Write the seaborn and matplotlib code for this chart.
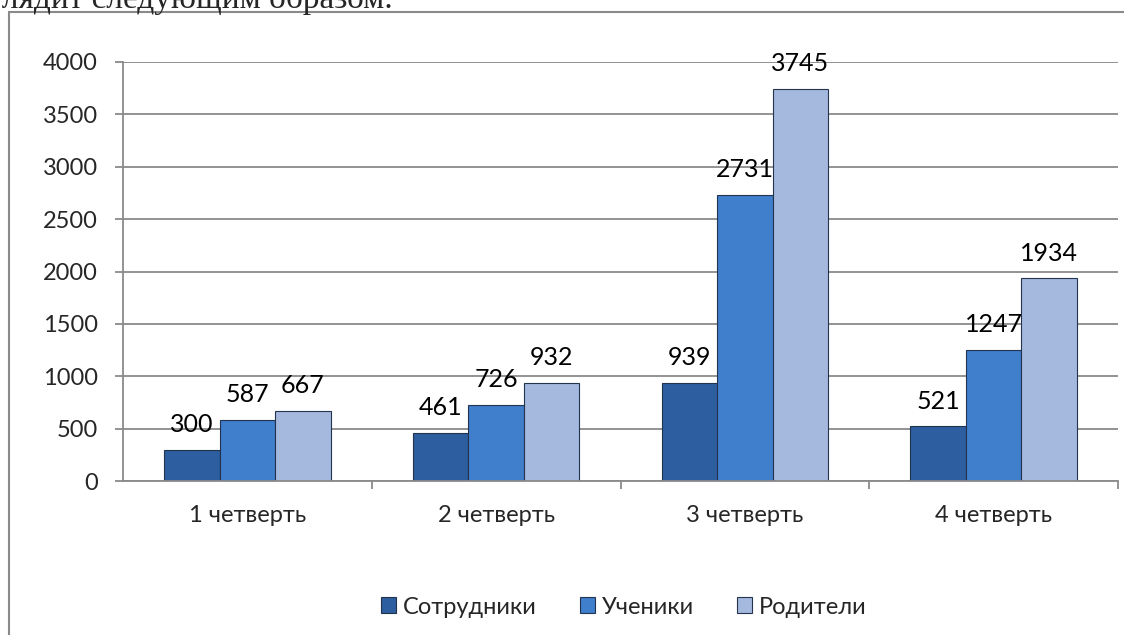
import pandas as pd
import seaborn as sns
import matplotlib.pyplot as plt
from matplotlib.patches import Rectangle

quarters = ['1 четверть', '2 четверть', '3 четверть', '4 четверть']
series = ['Сотрудники', 'Ученики', 'Родители']
staff = [300, 461, 939, 521]
pupils = [587, 726, 2731, 1247]
parents = [667, 932, 3745, 1934]
colors = ['#2D5E9F', '#3F7FCC', '#A5B9DE']

df = pd.DataFrame({
    'quarter': quarters * 3,
    'group': [s for s in series for _ in quarters],
    'value': staff + pupils + parents,
})

sns.set_style('white')
plt.rcParams['font.family'] = ['Lato', 'DejaVu Sans']

fig = plt.figure(figsize=(11.24, 6.35), dpi=100)
ax = fig.add_axes([123 / 1124, 1 - 481 / 635, 995 / 1124, 419 / 635])

sns.barplot(data=df, x='quarter', y='value', hue='group', palette=colors,
            saturation=1, width=0.67, gap=0, edgecolor='#24344f',
            linewidth=0.8, ax=ax)

for c in ax.containers:
    ax.bar_label(c, padding=10, fontsize=18, color='black')

ax.set_ylim(0, 4000)
ax.set_xlim(-0.5, 3.5)
ax.set_yticks(range(0, 4001, 500))
ax.yaxis.grid(True, color='#8a8a8a', linewidth=1.3)
ax.set_axisbelow(True)
ax.set_xlabel('')
ax.set_ylabel('')

for s in ['top', 'right']:
    ax.spines[s].set_visible(False)
for s in ['left', 'bottom']:
    ax.spines[s].set_color('#8a8a8a')
    ax.spines[s].set_linewidth(1.3)

ax.tick_params(axis='y', which='major', left=True, length=6, color='#8a8a8a',
               width=1.3, labelsize=17, pad=12)
ax.set_xticks(range(4))
ax.set_xticklabels(quarters)
ax.tick_params(axis='x', which='major', bottom=False, labelsize=17, pad=14)
ax.set_xticks([0.5, 1.5, 2.5, 3.5], minor=True)
ax.tick_params(axis='x', which='minor', bottom=True, length=6, color='#8a8a8a',
               width=1.3)

handles, labels = ax.get_legend_handles_labels()
ax.legend_.remove()
fig.legend(handles, labels, loc='center', bbox_to_anchor=(624 / 1124, 1 - 607 / 635),
           ncol=3, frameon=False, fontsize=17, handlelength=0.65, handleheight=0.65,
           handletextpad=0.3, columnspacing=1.8)

# chart frame and cut-off document text above it
fig.patches.append(Rectangle((9 / 1124, -0.1), 1.2, 0.1 + 1 - 12 / 635,
                             transform=fig.transFigure, fill=False,
                             edgecolor='#8a8a8a', linewidth=1.5))
fig.text(-10 / 1124, 1 - 8 / 635, 'глядит следующим образом.', fontsize=24,
         family=['Liberation Serif'], va='baseline', ha='left')

fig.savefig('out.png', dpi=100)
